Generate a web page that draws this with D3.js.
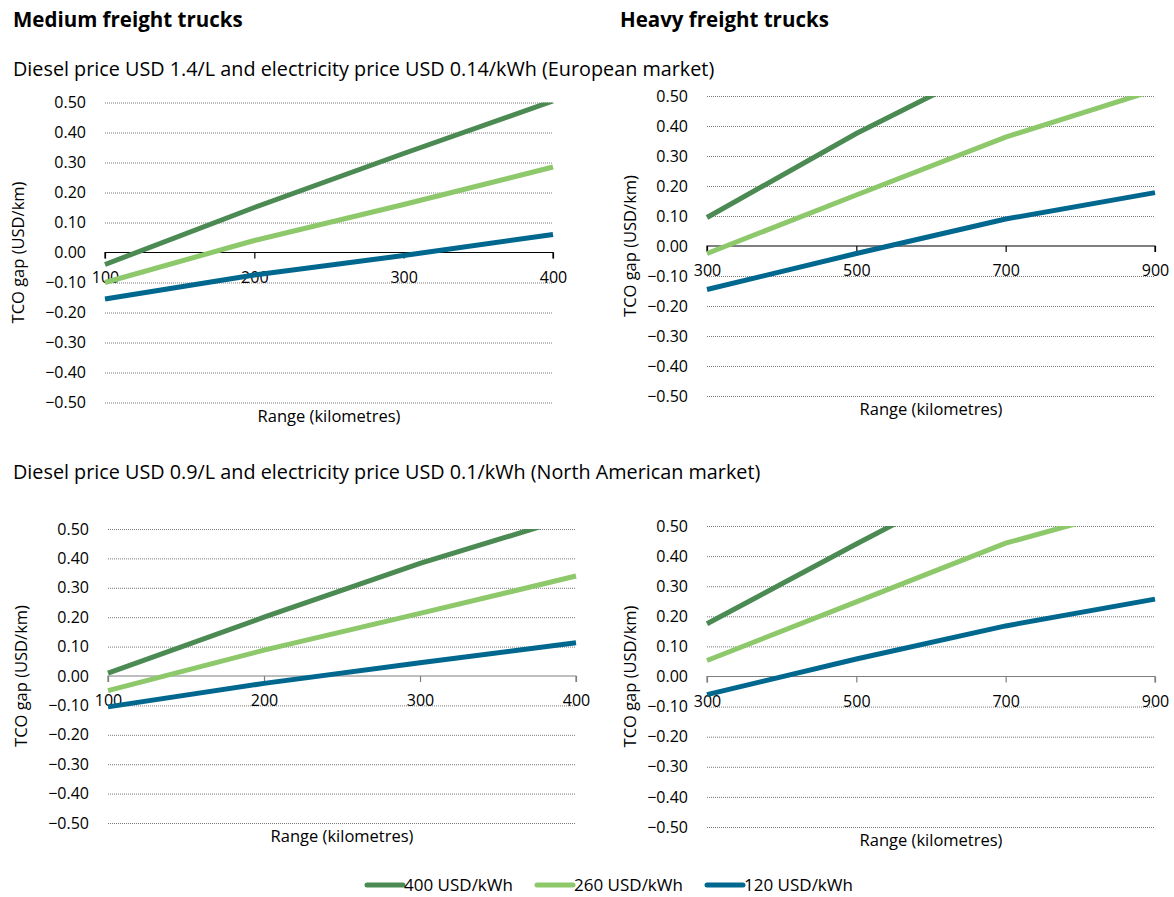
<!DOCTYPE html>
<html>
<head>
<meta charset="utf-8">
<script src="https://cdn.jsdelivr.net/npm/d3@7"></script>
<style>
  body { margin: 0; background: #fff; }
  svg { display: block; }
  text { font-family: "Open Sans", "Lato", sans-serif; fill: #000; }
</style>
</head>
<body>
<svg id="chart" width="1174" height="897"></svg>
<script>
// ---------- data ----------
const seriesNames = ["400 USD/kWh", "260 USD/kWh", "120 USD/kWh"];
const mediumRange = [100, 200, 300, 400];
const heavyRange = [300, 500, 700, 900];
const yTicks = [-0.5, -0.4, -0.3, -0.2, -0.1, 0, 0.1, 0.2, 0.3, 0.4, 0.5];

// European market
const euMedium400 = [-0.04, 0.15, 0.33, 0.505];
const euMedium260 = [-0.10, 0.04, 0.16, 0.285];
const euMedium120 = [-0.155, -0.075, -0.01, 0.06];
const euHeavy400 = [0.095, 0.375, 0.625, 0.87];
const euHeavy260 = [-0.025, 0.17, 0.363, 0.52];
const euHeavy120 = [-0.145, -0.025, 0.09, 0.178];

// North American market
const naMedium400 = [0.01, 0.20, 0.383, 0.545];
const naMedium260 = [-0.05, 0.088, 0.213, 0.34];
const naMedium120 = [-0.105, -0.025, 0.045, 0.113];
const naHeavy400 = [0.175, 0.44, 0.70, 0.95];
const naHeavy260 = [0.053, 0.248, 0.443, 0.58];
const naHeavy120 = [-0.06, 0.058, 0.168, 0.257];

const colors = ["#4b8a52", "#8dc86a", "#00678e"];

const svg = d3.select("#chart");

// headings
svg.append("text").attr("x", 13).attr("y", 27).attr("font-size", 20.5).attr("font-weight", "bold").text("Medium freight trucks");
svg.append("text").attr("x", 620).attr("y", 27).attr("font-size", 20.5).attr("font-weight", "bold").text("Heavy freight trucks");
svg.append("text").attr("x", 13).attr("y", 76).attr("font-size", 19.8).text("Diesel price USD 1.4/L and electricity price USD 0.14/kWh (European market)");
svg.append("text").attr("x", 13).attr("y", 479).attr("font-size", 19.8).text("Diesel price USD 0.9/L and electricity price USD 0.1/kWh (North American market)");

const panels = [
  { id: "tl", range: mediumRange, series: [euMedium400, euMedium260, euMedium120], x0: 105, x1: 553, yTop: 102.5, yBot: 402.5, axisColor: "#000", ytitleX: 24 },
  { id: "tr", range: heavyRange, series: [euHeavy400, euHeavy260, euHeavy120], x0: 707, x1: 1155, yTop: 96, yBot: 396, axisColor: "#000", ytitleX: 636 },
  { id: "bl", range: mediumRange, series: [naMedium400, naMedium260, naMedium120], x0: 108, x1: 576, yTop: 529, yBot: 823, axisColor: "#7f7f7f", ytitleX: 27 },
  { id: "br", range: heavyRange, series: [naHeavy400, naHeavy260, naHeavy120], x0: 707, x1: 1155, yTop: 526, yBot: 827, axisColor: "#7f7f7f", ytitleX: 636 }
];

panels.forEach(p => {
  const x = d3.scaleLinear().domain(d3.extent(p.range)).range([p.x0, p.x1]);
  const y = d3.scaleLinear().domain([-0.5, 0.5]).range([p.yBot, p.yTop]);
  const g = svg.append("g");

  // gridlines (dotted)
  g.append("g")
    .attr("transform", `translate(${p.x0},0)`)
    .call(d3.axisLeft(y).tickValues(yTicks.filter(v => Math.abs(v) > 1e-9)).tickSize(-(p.x1 - p.x0)).tickFormat(""))
    .call(s => s.select(".domain").remove())
    .call(s => s.selectAll("line").attr("stroke", "#7a7a7a").attr("stroke-dasharray", "1,1").attr("stroke-width", 1));

  // y tick labels
  g.append("g")
    .attr("transform", `translate(${p.x0 - 19},0)`)
    .call(d3.axisLeft(y).tickValues(yTicks).tickSize(0).tickPadding(0).tickFormat(d3.format(".2f")))
    .call(s => s.select(".domain").remove())
    .call(s => s.selectAll("text").attr("font-size", 16).attr("fill", "#000").style("font-family", "'Open Sans', sans-serif"));

  // x axis at zero
  const xa = g.append("g")
    .attr("transform", `translate(0,${y(0)})`)
    .call(d3.axisBottom(x).tickValues(p.range).tickSize(6).tickPadding(0).tickFormat(d3.format("d")));
  xa.select(".domain").attr("stroke", p.axisColor).attr("stroke-width", 1.2).attr("d", `M${p.x0},6V0H${p.x1}V6`);
  xa.selectAll("line").attr("stroke", p.axisColor).attr("stroke-width", 1.2);
  xa.selectAll("text").attr("font-size", 16).attr("fill", "#000").attr("y", 30).attr("dy", 0).style("font-family", "'Open Sans', sans-serif");

  // clip
  const clipId = "clip-" + p.id;
  svg.append("clipPath").attr("id", clipId).append("rect")
    .attr("x", p.x0 - 10).attr("y", p.yTop).attr("width", p.x1 - p.x0 + 20).attr("height", p.yBot - p.yTop);

  const line = d3.line().x((d, i) => x(p.range[i])).y(d => y(d));
  p.series.forEach((vals, i) => {
    g.append("path")
      .attr("clip-path", `url(#${clipId})`)
      .attr("d", line(vals))
      .attr("fill", "none")
      .attr("stroke", colors[i])
      .attr("stroke-width", 5);
  });

  // axis titles
  g.append("text").attr("x", (p.x0 + p.x1) / 2).attr("y", p.yBot + 19)
    .attr("text-anchor", "middle").attr("font-size", 16.5).text("Range (kilometres)");
  g.append("text")
    .attr("transform", `translate(${p.ytitleX},${(p.yTop + p.yBot) / 2}) rotate(-90)`)
    .attr("text-anchor", "middle").attr("font-size", 16.5).text("TCO gap (USD/km)");
});

// legend
const legendX = [367, 537, 707];
seriesNames.forEach((name, i) => {
  const lg = svg.append("g");
  lg.append("line").attr("x1", legendX[i]).attr("x2", legendX[i] + 36).attr("y1", 885).attr("y2", 885)
    .attr("stroke", colors[i]).attr("stroke-width", 5).attr("stroke-linecap", "round");
  lg.append("text").attr("x", legendX[i] + 37).attr("y", 891).attr("font-size", 17).text(name);
});
</script>
</body>
</html>
